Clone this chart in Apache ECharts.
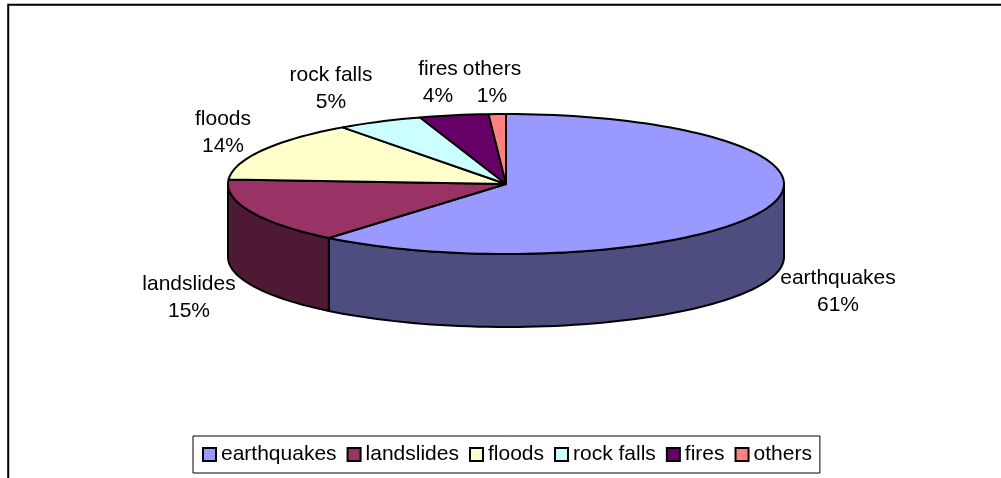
<!DOCTYPE html>
<html>
<head>
<meta charset="utf-8">
<style>html,body{margin:0;padding:0;background:#fff}#main{width:1001px;height:478px}</style>
<script src="https://cdn.jsdelivr.net/npm/echarts@6/dist/echarts.min.js"></script>
</head>
<body>
<div id="main"></div>
<script>
var categories = ['earthquakes', 'landslides', 'floods', 'rock falls', 'fires', 'others'];
var percents = [61, 15, 14, 5, 4, 1];
var topColors = ['#9999FF', '#993366', '#FFFFCC', '#CCFFFF', '#660066', '#FF8080'];
var wallColors = ['#4D4D80', '#4D1933', '#80806A', '#6A8080', '#330033', '#804040'];
// label centres, placed by hand like the original
var labelX = [838, 189, 223, 331, 438, 492];
var labelY = [292, 298, 133, 89, 83, 83];

var cx = 506, cy = 184, rx = 278, ry = 70, depth = 73;
var FONT = 'Liberation Sans, Arial, sans-serif';
var total = percents.reduce(function (a, b) { return a + b; }, 0);

function pt(deg, dy) {
    var r = deg * Math.PI / 180;
    return [cx + rx * Math.sin(r), cy - ry * Math.cos(r) + (dy || 0)];
}

function arc(from, to, dy) {
    var pts = [];
    var n = Math.max(2, Math.ceil((to - from) / 2));
    for (var i = 0; i <= n; i++) {
        pts.push(pt(from + (to - from) * i / n, dy));
    }
    return pts;
}

function makeRender(idx) {
    return function (params, api) {
        var before = 0;
        for (var i = 0; i < idx; i++) before += percents[i];
        var start = before / total * 360;
        var end = (before + api.value(0)) / total * 360;
        var children = [];
        var style = { stroke: '#000', lineWidth: 2, lineJoin: 'round' };

        // side wall, only the front half of the rim shows
        var a = Math.max(start, 90), b = Math.min(end, 270);
        if (b > a) {
            var upper = arc(a, b, 0);
            var lower = arc(a, b, depth).reverse();
            children.push({
                type: 'polygon',
                shape: { points: upper.concat(lower) },
                style: echarts.util.extend({ fill: wallColors[idx] }, style)
            });
        }
        children.push({
            type: 'polygon',
            shape: { points: [[cx, cy]].concat(arc(start, end, 0)) },
            style: echarts.util.extend({ fill: topColors[idx] }, style),
            z2: 5
        });
        children.push({
            type: 'text',
            z2: 10,
            style: {
                x: labelX[idx],
                y: labelY[idx],
                text: categories[idx] + '\n' + api.value(0) + '%',
                font: '21px ' + FONT,
                fill: '#000',
                align: 'center',
                verticalAlign: 'middle',
                lineHeight: 27
            }
        });
        return { type: 'group', children: children };
    };
}

var myChart = echarts.init(document.getElementById('main'), null, { renderer: 'canvas' });
var series = categories.map(function (name, i) {
    return {
        name: name,
        type: 'custom',
        coordinateSystem: 'none',
        animation: false,
        silent: true,
        itemStyle: { color: topColors[i] },
        renderItem: makeRender(i),
        data: [[percents[i]]]
    };
});

var option = {
    animation: false,
    backgroundColor: '#fff',
    legend: {
        left: 193,
        top: 436,
        orient: 'horizontal',
        selectedMode: false,
        padding: [8, 8, 8, 9],
        backgroundColor: '#fff',
        borderColor: '#000',
        borderWidth: 1,
        itemWidth: 13,
        itemHeight: 13,
        itemGap: 10,
        icon: 'rect',
        textStyle: { fontFamily: FONT, fontSize: 21, color: '#000' },
        data: categories.map(function (name, i) {
            return { name: name, icon: 'rect', itemStyle: { color: topColors[i], borderColor: '#000', borderWidth: 2 } };
        })
    },
    graphic: [{
        type: 'polyline',
        silent: true,
        z: -1,
        shape: { points: [[8.2, 480], [8.2, 4.8], [1002, 4.8]] },
        style: { stroke: '#000', lineWidth: 2, fill: null }
    }],
    series: series
};
myChart.setOption(option);
</script>
</body>
</html>
